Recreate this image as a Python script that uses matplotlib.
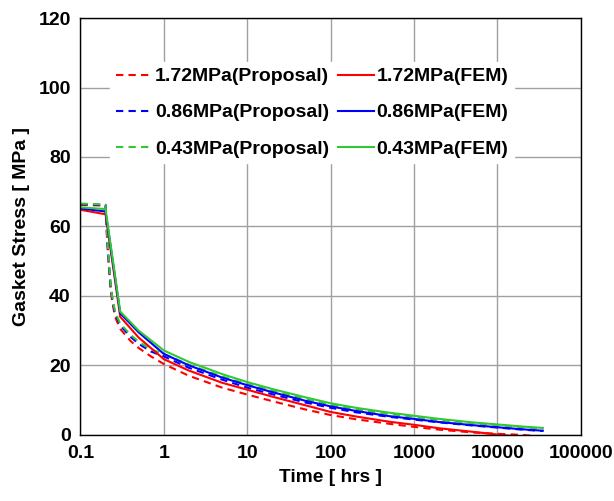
import matplotlib
matplotlib.use("Agg")
import matplotlib.pyplot as plt
import numpy as np

plt.rcParams['font.family'] = ['Liberation Sans', 'DejaVu Sans']

# Time points [hrs]
t_fem = [0.1, 0.2, 0.3, 0.5, 1, 2, 5, 10, 20, 50, 100, 200, 500, 1000,
         2000, 5000, 10000, 20000, 35000]
t_prop = [0.1, 0.2, 0.205, 0.21, 0.22, 0.23, 0.24, 0.26, 0.3, 0.4, 0.5, 0.7,
          1, 2, 5, 10, 20, 50, 100, 200, 500, 1000, 2000, 5000, 10000,
          20000, 35000]

# Gasket stress [MPa] - FEM
fem_172 = [64.8, 63.5, 34.0, 28.0, 21.8, 18.5, 15.0, 13.0, 11.0, 8.5, 6.6,
           5.3, 3.8, 2.9, 1.9, 0.9, 0.1, -0.6, -1.2]
fem_086 = [65.2, 64.3, 35.0, 29.5, 23.3, 20.0, 16.5, 14.3, 12.3, 9.8, 8.2,
           6.9, 5.4, 4.6, 3.7, 2.8, 2.2, 1.6, 1.2]
fem_043 = [65.5, 65.0, 35.5, 30.0, 24.3, 21.0, 17.5, 15.2, 13.2, 10.8, 9.1,
           7.8, 6.4, 5.5, 4.6, 3.6, 3.0, 2.4, 2.0]

# Gasket stress [MPa] - Proposal
prop_172 = [66.2, 66.0, 60.0, 55.0, 48.0, 42.0, 38.5, 34.0, 30.5, 27.0,
            25.0, 22.6, 20.4, 17.0, 13.6, 11.6, 9.7, 7.3, 5.7, 4.5, 3.2,
            2.3, 1.5, 0.7, 0.3, 0.0, -0.6]
prop_086 = [66.4, 66.2, 61.0, 56.0, 49.0, 43.0, 39.5, 35.0, 31.5, 28.2,
            26.2, 24.0, 22.6, 19.3, 15.9, 13.6, 11.7, 9.3, 7.8, 6.5, 5.2,
            4.4, 3.6, 2.7, 2.1, 1.5, 1.1]
prop_043 = [66.6, 66.3, 61.5, 56.5, 49.5, 43.5, 40.0, 35.5, 32.0, 28.8,
            26.8, 24.6, 23.3, 20.2, 16.8, 14.6, 12.7, 10.3, 8.7, 7.4, 6.0,
            5.2, 4.3, 3.4, 2.8, 2.2, 1.8]

labels = ['1.72MPa', '0.86MPa', '0.43MPa']
colors = ['#FF0000', '#0000FF', '#33C833']

fig = plt.figure(figsize=(6.14, 5.01), dpi=100)
ax = fig.add_axes([0.131, 0.132, 0.815, 0.832])

dash = (0, (3.5, 2.5))
handles_p, handles_f = [], []
for lab, c, yp in zip(labels, colors, [prop_172, prop_086, prop_043]):
    h, = ax.plot(t_prop, yp, color=c, lw=1.5, linestyle=dash,
                 label=f'{lab}(Proposal)')
    handles_p.append(h)
for lab, c, yf in zip(labels, colors, [fem_172, fem_086, fem_043]):
    h, = ax.plot(t_fem, yf, color=c, lw=1.5, label=f'{lab}(FEM)')
    handles_f.append(h)

ax.set_xscale('log')
ax.set_xlim(0.1, 100000)
ax.set_ylim(0, 120)
ax.set_xticks([0.1, 1, 10, 100, 1000, 10000, 100000])
ax.set_xticklabels(['0.1', '1', '10', '100', '1000', '10000', '100000'])
ax.minorticks_off()
ax.set_yticks(np.arange(0, 121, 20))
ax.tick_params(length=0, labelsize=14, pad=7)
for lbl in ax.get_xticklabels() + ax.get_yticklabels():
    lbl.set_fontweight('bold')

ax.grid(True, color='#A0A0A0', lw=1.0)
ax.set_axisbelow(True)
for s in ax.spines.values():
    s.set_color('black')
    s.set_linewidth(1.0)

ax.set_xlabel('Time [ hrs ]', fontsize=13.8, fontweight='bold', labelpad=5)
ax.set_ylabel('Gasket Stress [ MPa ]', fontsize=14, fontweight='bold',
              labelpad=6)

leg = ax.legend(handles_p + handles_f,
                [h.get_label() for h in handles_p + handles_f],
                ncol=2, loc='upper left', bbox_to_anchor=(0.04, 0.918),
                frameon=True, fancybox=False, framealpha=1.0,
                edgecolor='white', facecolor='white',
                prop={'weight': 'bold', 'size': 14},
                handlelength=1.85, handletextpad=0.15, columnspacing=0.45,
                labelspacing=0.95, borderpad=0.3)

fig.savefig('out.png', dpi=100)
